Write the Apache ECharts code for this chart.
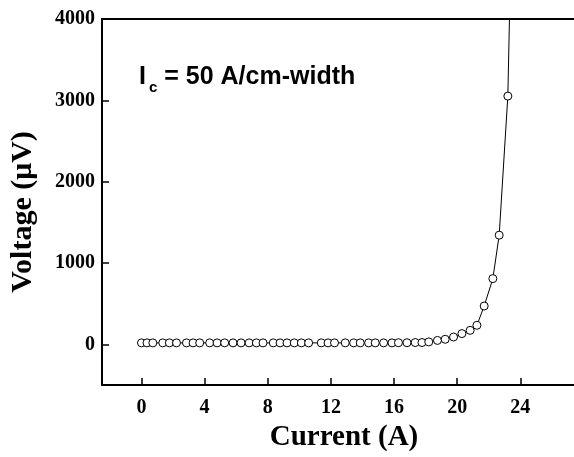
<!DOCTYPE html>
<html>
<head>
<meta charset="utf-8">
<script src="https://cdn.jsdelivr.net/npm/echarts@6/dist/echarts.min.js"></script>
<style>
  html, body { margin: 0; padding: 0; background: #fff; }
  #chart { width: 574px; height: 457px; }
</style>
</head>
<body>
<div id="chart"></div>
<script>
// current (A) and voltage (uV)
const current = [
  0.0, 0.35, 0.72, 1.35, 1.77, 2.22, 2.85, 3.27, 3.69, 4.32,
  4.79, 5.27, 5.80, 6.31, 6.82, 7.28, 7.70, 8.35, 8.78, 9.22,
  9.68, 10.13, 10.59, 11.39, 11.82, 12.23, 12.91, 13.44, 13.86, 14.39,
  14.81, 15.34, 15.87, 16.28, 16.82, 17.34, 17.77, 18.2, 18.75, 19.24,
  19.77, 20.3, 20.82, 21.25, 21.71, 22.26, 22.66, 23.21, 23.45
];
const voltage = [
  18, 18, 18, 18, 18, 18, 18, 18, 18, 18,
  18, 18, 18, 18, 18, 18, 18, 18, 18, 18,
  18, 18, 18, 18, 18, 18, 18, 18, 18, 18,
  18, 18, 18, 20, 20, 22, 22, 30, 48, 62,
  90, 132, 172, 234, 471, 808, 1342, 3052, 5300
];
const xTicks = [0, 4, 8, 12, 16, 20, 24];
const yTicks = [0, 1000, 2000, 3000, 4000];

const serif = '"Liberation Serif", "Times New Roman", serif';
const sans = '"Liberation Sans", Arial, sans-serif';
const chart = echarts.init(document.getElementById('chart'));

chart.setOption({
  animation: false,
  backgroundColor: '#fff',
  grid: { left: 101.5, right: 0, top: 19, bottom: 72 },
  xAxis: [{
    type: 'value', min: -2.5, max: 27.4,
    axisLine: { onZero: false, lineStyle: { color: '#000', width: 2 } },
    axisTick: { inside: true, length: 7, customValues: xTicks, lineStyle: { color: '#000', width: 1.5 } },
    axisLabel: { customValues: xTicks, color: '#000', fontFamily: serif, fontWeight: 'bold', fontSize: 20, margin: 13 },
    splitLine: { show: false },
    name: 'Current (A)', nameLocation: 'middle', nameGap: 37,
    nameTextStyle: { color: '#000', fontFamily: serif, fontWeight: 'bold', fontSize: 29, padding: [0, 0, 0, 12] }
  }, {
    type: 'value', position: 'top', min: -2.5, max: 27.4,
    axisLine: { onZero: false, lineStyle: { color: '#000', width: 2 } },
    axisTick: { show: false }, axisLabel: { show: false }, splitLine: { show: false }
  }],
  yAxis: {
    type: 'value', min: -500, max: 4000,
    axisLine: { show: true, onZero: false, lineStyle: { color: '#000', width: 2 } },
    axisTick: { show: true, inside: true, length: 7, customValues: yTicks, lineStyle: { color: '#000', width: 1.5 } },
    axisLabel: { customValues: yTicks, formatter: v => String(v), color: '#000', fontFamily: serif, fontWeight: 'bold', fontSize: 20, margin: 7 },
    splitLine: { show: false },
    name: 'Voltage (\u03bcV)', nameLocation: 'middle', nameGap: 64,
    nameTextStyle: { color: '#000', fontFamily: serif, fontWeight: 'bold', fontSize: 30, padding: [0, 20, 0, 0] }
  },
  graphic: [{
    type: 'text', left: 139, top: 65,
    style: {
      text: '{a|I}{s|c}{a| = 50 A/cm-width}',
      rich: {
        a: { fontFamily: sans, fontWeight: 'bold', fontSize: 25, fill: '#000' },
        s: { fontFamily: sans, fontWeight: 'bold', fontSize: 15, fill: '#000', padding: [20, 0, 0, 3] }
      }
    }
  }],
  series: [{
    type: 'line',
    data: current.map((c, i) => [c, voltage[i]]),
    clip: true,
    symbol: 'circle', symbolSize: 8, showAllSymbol: true,
    itemStyle: { color: '#fff', borderColor: '#000', borderWidth: 1 },
    lineStyle: { color: '#000', width: 1 }
  }]
});
</script>
</body>
</html>
